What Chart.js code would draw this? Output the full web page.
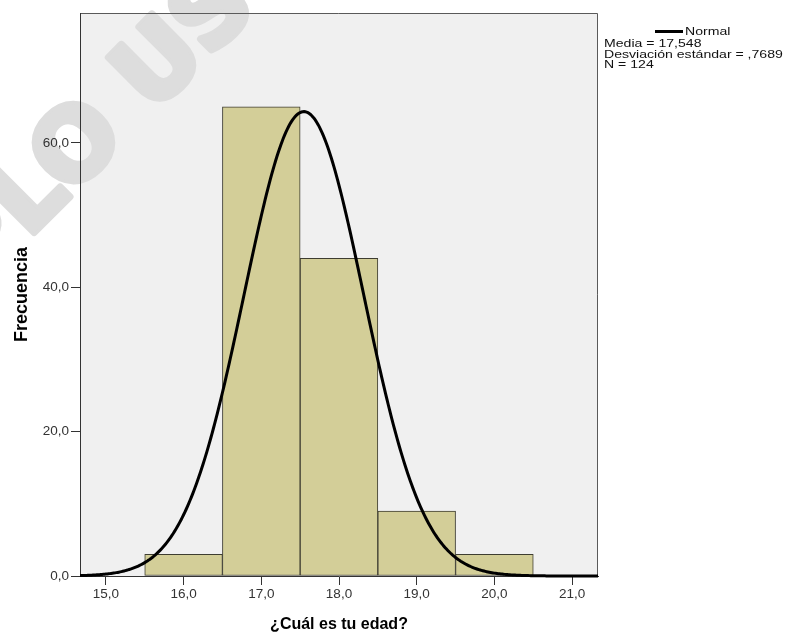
<!DOCTYPE html>
<html lang="es">
<head>
<meta charset="utf-8">
<title>¿Cuál es tu edad?</title>
<script src="https://cdn.jsdelivr.net/npm/chart.js@4.4.1/dist/chart.umd.min.js"></script>
<style>
  html, body { margin: 0; padding: 0; background: #fff; }
  #wrap { position: relative; width: 786px; height: 635px; }
  #histograma { position: absolute; left: 0; top: 0; }
  .fila {
    position: absolute;
    font-family: "Liberation Sans", Arial, sans-serif;
    font-size: 11px;
    line-height: 11px;
    color: #111;
    white-space: nowrap;
    transform-origin: 0 50%;
    transform: scaleX(1.28);
  }
  #muestra { position: absolute; left: 655px; top: 30px; width: 28px; height: 3px; background: #000; }
</style>
</head>
<body>
<div id="wrap">
  <canvas id="histograma" width="786" height="635"></canvas>
  <div id="muestra"></div>
  <div class="fila" id="fNormal" style="left:685px; top:26px;"></div>
  <div class="fila" id="fMedia" style="left:604px; top:38px;"></div>
  <div class="fila" id="fDesv" style="left:604px; top:48.5px;"></div>
  <div class="fila" id="fN" style="left:604px; top:59px;"></div>
</div>
<script>
// Frecuencias por edad (intervalos de un año)
const edades = [16, 17, 18, 19, 20];
const frecuencias = [3, 65, 44, 9, 3];

// Estadísticos de la curva normal
const media = 17.548;
const desviacion = 0.7689;
const n = 124;
const anchoIntervalo = 1;

const ticksX = [15, 16, 17, 18, 19, 20, 21];
const ticksY = [0, 20, 40, 60];

const xMin = 14.667;
const xMax = 21.333;

// números con coma decimal, como en la salida original
function formato(v) {
  return Number(v).toFixed(1).replace('.', ',');
}

// curva normal escalada a frecuencias: n * ancho * densidad
function curvaNormal(desde, hasta, pasos) {
  const puntos = [];
  for (let i = 0; i <= pasos; i++) {
    const x = desde + (hasta - desde) * i / pasos;
    const z = (x - media) / desviacion;
    const y = n * anchoIntervalo * Math.exp(-0.5 * z * z) / (desviacion * Math.sqrt(2 * Math.PI));
    puntos.push({ x: x, y: y });
  }
  return puntos;
}

document.getElementById('fNormal').textContent = 'Normal';
document.getElementById('fMedia').textContent = 'Media = ' + media.toFixed(3).replace('.', ',');
document.getElementById('fDesv').textContent = 'Desviación estándar = ' + desviacion.toFixed(4).replace(/^0\./, ',');
document.getElementById('fN').textContent = 'N = ' + n;

const fuenteTicks = { family: '"Liberation Sans", Arial, sans-serif', size: 13.5 };

// fondo gris del área, marco y marca de agua
const fondo = {
  id: 'fondo',
  beforeDraw(chart) {
    const { ctx, chartArea: a } = chart;
    ctx.save();
    ctx.fillStyle = '#ffffff';
    ctx.fillRect(0, 0, chart.width, chart.height);
    ctx.fillStyle = '#f0f0f0';
    ctx.fillRect(a.left, a.top, a.right - a.left, a.bottom - a.top);

    const tam = 98;
    ctx.font = 'bold ' + tam + 'px "DejaVu Sans"';
    ctx.fillStyle = '#dddddd';
    ctx.strokeStyle = '#dddddd';
    ctx.lineWidth = 7;
    ctx.lineJoin = 'round';
    const texto = 'EJEMPLO USO';
    const antes = ctx.measureText('EJEMPL').width;
    const anchoO = ctx.measureText('O').width;
    ctx.translate(76, 140);
    ctx.rotate(-45 * Math.PI / 180);
    ctx.translate(-(antes + anchoO / 2), 0.365 * tam);
    ctx.strokeText(texto, 0, 0);
    ctx.fillText(texto, 0, 0);
    ctx.restore();

    ctx.save();
    ctx.strokeStyle = '#5a5a5a';
    ctx.lineWidth = 1;
    ctx.beginPath();
    ctx.moveTo(a.left, a.top + 0.5);
    ctx.lineTo(a.right - 0.5, a.top + 0.5);
    ctx.lineTo(a.right - 0.5, a.bottom);
    ctx.stroke();
    ctx.restore();
  }
};

new Chart(document.getElementById('histograma'), {
  type: 'bar',
  data: {
    datasets: [
      {
        type: 'line',
        label: 'Normal',
        data: curvaNormal(xMin, xMax, 400),
        borderColor: '#000',
        borderWidth: 3,
        pointRadius: 0,
        tension: 0,
        fill: false,
        clip: false,
        order: 0
      },
      {
        type: 'bar',
        label: 'Frecuencia',
        data: edades.map((e, i) => ({ x: e, y: frecuencias[i] })),
        backgroundColor: '#d3ce98',
        borderColor: '#3e3d31',
        borderWidth: 1,
        borderSkipped: false,
        barPercentage: 1,
        categoryPercentage: 1,
        order: 1
      }
    ]
  },
  options: {
    responsive: false,
    animation: false,
    layout: { padding: { left: 0, top: 13, right: 188, bottom: 0 } },
    plugins: { legend: { display: false }, tooltip: { enabled: false } },
    scales: {
      x: {
        type: 'linear',
        min: xMin,
        max: xMax,
        offset: false,
        afterBuildTicks: s => { s.ticks = ticksX.map(v => ({ value: v })); },
        afterFit: s => { s.height = 59; },
        grid: { drawOnChartArea: false, drawTicks: true, tickLength: 9, tickColor: '#333', offset: false },
        border: { display: true, color: '#333', width: 1 },
        ticks: { padding: 1, color: '#333', font: fuenteTicks, maxRotation: 0, callback: v => formato(v) },
        title: {
          display: true,
          text: '¿Cuál es tu edad?',
          color: '#000',
          font: { family: '"Liberation Sans", Arial, sans-serif', size: 16, weight: 'bold', lineHeight: 1 },
          padding: { top: 0, bottom: 2 }
        }
      },
      y: {
        min: 0,
        max: 78,
        afterBuildTicks: s => { s.ticks = ticksY.map(v => ({ value: v })); },
        afterFit: s => { s.width = 80; },
        grid: { drawOnChartArea: false, drawTicks: true, tickLength: 9, tickColor: '#333' },
        border: { display: true, color: '#333', width: 1 },
        ticks: { padding: 2, color: '#333', font: fuenteTicks, callback: v => formato(v) },
        title: {
          display: true,
          text: 'Frecuencia',
          color: '#000',
          font: { family: '"Liberation Sans", Arial, sans-serif', size: 18, weight: 'bold', lineHeight: 1 },
          padding: { top: 13, bottom: 0 }
        }
      }
    }
  },
  plugins: [fondo]
});
</script>
</body>
</html>
